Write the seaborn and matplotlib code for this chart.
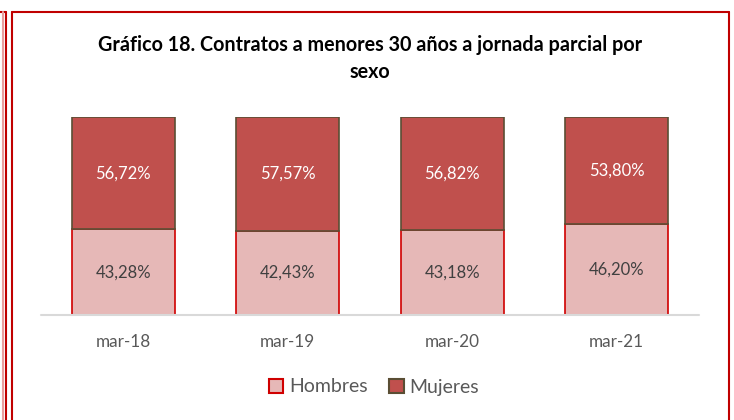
import pandas as pd
import seaborn as sns
import matplotlib.pyplot as plt
from matplotlib.patches import Patch
from matplotlib.lines import Line2D

# data
periodos = ['mar-18', 'mar-19', 'mar-20', 'mar-21']
hombres = [43.28, 42.43, 43.18, 46.20]
mujeres = [56.72, 57.57, 56.82, 53.80]

titulo = 'Gráfico 18. Contratos a menores 30 años a jornada parcial por\nsexo'

sns.set_theme(style='white')
plt.rcParams['font.family'] = ['Lato', 'DejaVu Sans']

df = pd.DataFrame({'periodo': periodos, 'Hombres': hombres, 'Mujeres': mujeres})

fig = plt.figure(figsize=(7.34, 4.2), dpi=100)
ax = fig.add_axes([41 / 734, 105 / 420, 658 / 734, 198 / 420])

c_h, e_h = '#E6B8B7', '#D00000'
c_m, e_m = '#C0504D', '#5A4E34'

sns.barplot(data=df, x='periodo', y='Hombres', color=c_h, edgecolor=e_h,
            linewidth=1.2, width=0.625, saturation=1, ax=ax)
sns.barplot(data=df, x='periodo', y='Mujeres', bottom=df['Hombres'], color=c_m,
            edgecolor=e_m, linewidth=1.2, width=0.625, saturation=1, ax=ax)

for i, (h, m) in enumerate(zip(hombres, mujeres)):
    ax.text(i, h / 2, f'{h:.2f}%'.replace('.', ','), ha='center', va='center',
            fontsize=12, color='#404040')
    ax.text(i, h + m / 2, f'{m:.2f}%'.replace('.', ','), ha='center', va='center',
            fontsize=12, color='white')

ax.set_xlim(-0.5, 3.5)
ax.set_ylim(0, 100)
ax.axhline(0, color='#D9D9D9', lw=1.5, zorder=5, clip_on=False)
sns.despine(ax=ax, left=True, bottom=True)
ax.set_yticks([])
ax.set_xlabel('')
ax.set_ylabel('')
ax.tick_params(axis='x', length=0, pad=14, labelsize=12.3, labelcolor='#595959')

fig.text(370 / 734, 1 - 58.5 / 420, titulo, ha='center', va='center',
         fontsize=14.2, fontweight='bold', color='black', linespacing=1.4)

handles = [Patch(facecolor=c_h, edgecolor=e_h, linewidth=1.5, label='Hombres'),
           Patch(facecolor=c_m, edgecolor=e_m, linewidth=1.5, label='Mujeres')]
fig.legend(handles=handles, loc='center', bbox_to_anchor=(374 / 734, 1 - 387 / 420),
           ncol=2, frameon=False, fontsize=14, labelcolor='#595959',
           handlelength=0.75, handleheight=0.75, handletextpad=0.3, columnspacing=1.1)

# chart border and neighbouring frame
red = '#C00000'
for xs, ys, col in [([12 / 734, 12 / 734], [0, 1 - 12 / 420], red),
                    ([12 / 734, 728.5 / 734], [1 - 12 / 420, 1 - 12 / 420], red),
                    ([728.5 / 734, 728.5 / 734], [1 - 12 / 420, 0], red),
                    ([0, 6 / 734], [1 - 12 / 420, 1 - 12 / 420], red),
                    ([5.5 / 734, 5.5 / 734], [1 - 12 / 420, 0], red),
                    ([2.5 / 734, 2.5 / 734], [1 - 12 / 420, 0], '#E8A0A0')]:
    fig.add_artist(Line2D(xs, ys, color=col, lw=1.5, transform=fig.transFigure))

fig.savefig('out.png', dpi=100)
plt.close(fig)
